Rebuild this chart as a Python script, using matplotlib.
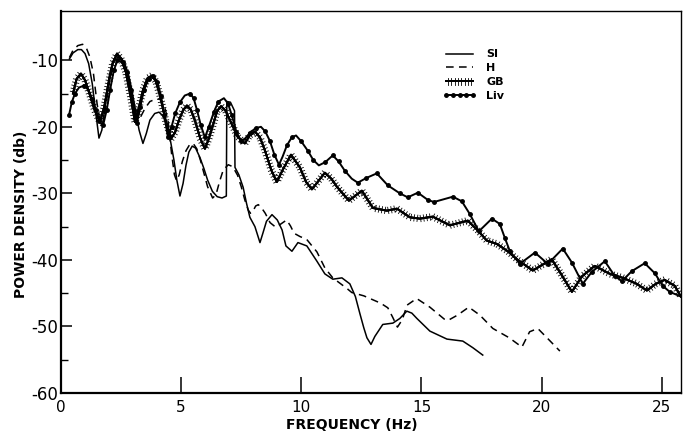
import matplotlib
matplotlib.use("Agg")
import matplotlib.pyplot as plt
import matplotlib.patheffects as pe
from matplotlib.ticker import FixedLocator

plt.rcParams['axes.unicode_minus'] = False
plt.rcParams['font.family'] = ['DejaVu Sans']

# ---- data (frequency in Hz, power density in db) ----
si_freq = [0.35, 0.5, 0.7, 0.85, 1.0, 1.15, 1.3, 1.45, 1.58, 1.7, 1.85, 2.0, 2.15, 2.33, 2.5,
           2.65, 2.8, 2.95, 3.1, 3.25, 3.41, 3.55, 3.7, 3.9, 4.08, 4.25, 4.4, 4.55, 4.7, 4.82,
           4.95, 5.08, 5.2, 5.32, 5.46, 5.6, 5.78, 5.95, 6.1, 6.3, 6.5, 6.7, 6.88, 6.9, 7.05,
           7.22, 7.24, 7.4, 7.58, 7.72, 7.86, 8.07, 8.28, 8.4, 8.55, 8.78, 9.0, 9.2, 9.36, 9.61,
           9.86, 10.23, 10.65, 10.98, 11.31, 11.69, 12.02, 12.25, 12.44, 12.6, 12.73, 12.9, 13.06,
           13.39, 13.81, 14.1, 14.39, 14.6, 14.81, 15.35, 16.06, 16.72, 17.14, 17.55]
si_db = [-9.8, -8.9, -8.4, -8.4, -9.0, -10.5, -13.5, -18.0, -21.7, -20.5, -16.5, -12.5, -10.2, -9.3, -9.6,
         -10.5, -12.0, -14.5, -17.5, -20.5, -22.5, -21.0, -19.0, -18.0, -17.8, -18.4, -19.8, -22.0, -25.0, -28.0,
         -30.4, -28.5, -25.8, -23.8, -22.9, -23.2, -24.6, -26.3, -28.0, -29.7, -30.5, -30.7, -30.4, -16.2, -16.3,
         -17.6, -26.1, -27.2, -29.1, -31.5, -33.6, -35.0, -37.4, -36.0, -34.2, -33.2, -34.0, -35.5, -37.9, -38.7,
         -37.4, -37.9, -40.2, -42.1, -42.9, -42.7, -43.6, -45.5, -48.1, -50.2, -51.7, -52.7, -51.5,
         -49.7, -49.5, -48.8, -47.7, -48.0, -48.8, -50.7, -51.9, -52.2, -53.2, -54.3]

h_freq = [0.35, 0.5, 0.7, 0.9, 1.05, 1.2, 1.35, 1.5, 1.65, 1.75, 1.9, 2.05, 2.2, 2.4, 2.55,
          2.7, 2.85, 3.0, 3.16, 3.3, 3.5, 3.7, 3.9, 4.1, 4.3, 4.45, 4.6, 4.72, 4.81, 4.92,
          5.05, 5.2, 5.35, 5.5, 5.65, 5.8, 5.95, 6.1, 6.31, 6.45, 6.6, 6.75, 6.96, 7.15, 7.35,
          7.5, 7.65, 7.79, 7.89, 8.0, 8.1, 8.21, 8.35, 8.5, 8.7, 8.94, 9.15, 9.39, 9.55, 9.7,
          9.95, 10.22, 10.65, 10.98, 11.31, 11.9, 12.1, 12.6, 13.3, 13.6, 13.8, 14.0, 14.2, 14.4, 14.8,
          15.35, 15.95, 16.1, 16.5, 16.97, 17.43, 17.97, 18.65, 19.18, 19.5, 19.84, 20.33, 20.76]
h_db = [-9.6, -8.5, -7.8, -7.6, -8.1, -9.5, -12.0, -16.5, -19.8, -19.5, -16.0, -12.5, -10.8, -10.1, -10.3,
        -11.2, -13.0, -16.0, -19.4, -18.6, -17.2, -16.2, -15.9, -15.8, -16.8, -19.0, -24.0, -27.2, -28.1, -27.2,
        -25.2, -23.6, -22.7, -22.5, -23.3, -25.0, -27.0, -29.0, -30.7, -30.2, -28.2, -26.5, -25.7, -26.0, -27.3,
        -29.0, -31.0, -32.5, -33.0, -32.6, -31.9, -31.7, -32.2, -33.0, -34.4, -35.1, -34.6, -34.0, -34.9, -36.0,
        -36.5, -36.9, -38.8, -41.2, -42.7, -44.3, -44.9, -45.4, -46.5, -47.2, -48.6, -50.1, -49.0, -46.8, -45.8,
        -47.1, -48.9, -49.1, -48.3, -47.1, -48.3, -50.3, -51.7, -53.1, -50.8, -50.3, -52.1, -53.7]

gb_freq = [0.5, 0.65, 0.83, 1.0, 1.21, 1.4, 1.62, 1.8, 1.96, 2.15, 2.33, 2.5, 2.7, 2.9, 3.08,
           3.25, 3.41, 3.6, 3.79, 3.95, 4.12, 4.35, 4.58, 4.75, 4.91, 5.08, 5.24, 5.4, 5.57, 5.8,
           5.99, 6.15, 6.32, 6.5, 6.66, 6.85, 7.03, 7.35, 7.65, 7.85, 8.07, 8.28, 8.49, 8.75, 8.98,
           9.25, 9.57, 9.94, 10.2, 10.44, 10.7, 10.98, 11.25, 11.48, 11.98, 12.52, 12.98, 13.56, 13.98, 14.52,
           14.93, 15.47, 16.18, 16.93, 17.35, 17.72, 18.14, 18.59, 18.97, 19.63, 20.42, 20.84, 21.26, 21.67, 22.21,
           22.84, 23.38, 23.96, 24.38, 24.75, 25.12, 25.54, 25.79]
gb_db = [-15.0, -12.8, -12.0, -13.0, -15.3, -17.5, -19.3, -17.0, -13.8, -10.5, -9.0, -9.8, -11.8, -15.5, -19.3,
         -17.0, -14.5, -12.7, -12.3, -13.2, -15.3, -19.0, -21.8, -20.8, -19.0, -17.5, -16.8, -17.4, -19.0, -21.8,
         -23.3, -21.8, -19.8, -17.6, -16.9, -17.6, -19.0, -21.5, -22.5, -21.3, -20.7, -21.6, -23.6, -26.5, -28.3,
         -26.3, -24.2, -26.1, -28.3, -29.4, -28.2, -26.9, -27.8, -29.0, -31.1, -29.6, -32.2, -32.6, -32.3, -33.6,
         -33.8, -33.5, -34.8, -34.1, -35.6, -37.1, -37.6, -38.7, -39.9, -41.6, -39.9, -42.3, -44.8, -42.5, -40.9,
         -42.1, -42.7, -43.6, -44.6, -43.6, -43.0, -43.9, -45.5]

liv_freq = [0.33, 0.45, 0.58, 0.75, 0.96, 1.15, 1.3, 1.45, 1.6, 1.75, 1.9, 2.04, 2.2, 2.35, 2.45,
            2.6, 2.75, 2.9, 3.05, 3.16, 3.3, 3.45, 3.65, 3.83, 4.0, 4.16, 4.3, 4.45, 4.6, 4.75,
            4.95, 5.15, 5.37, 5.52, 5.66, 5.82, 5.99, 6.15, 6.36, 6.55, 6.78, 6.95, 7.11, 7.3, 7.49,
            7.65, 7.86, 8.1, 8.32, 8.5, 8.69, 8.88, 9.07, 9.22, 9.4, 9.6, 9.78, 10.0, 10.27, 10.5,
            10.73, 11.0, 11.31, 11.55, 11.81, 12.1, 12.35, 12.7, 13.14, 13.6, 14.1, 14.43, 14.85, 15.27, 15.52,
            16.31, 16.68, 17.01, 17.39, 17.93, 18.26, 18.47, 18.68, 19.09, 19.72, 20.26, 20.88, 21.26, 21.71, 22.09,
            22.63, 23.04, 23.34, 23.75, 24.29, 24.71, 25.04, 25.33, 25.79]
liv_db = [-18.3, -16.3, -15.0, -14.1, -13.8, -14.5, -15.8, -17.5, -19.2, -19.8, -17.5, -14.5, -11.5, -10.0, -9.7,
          -10.3, -11.8, -14.5, -17.5, -19.5, -17.0, -14.5, -12.8, -12.3, -13.2, -15.3, -18.3, -21.6, -20.0, -18.0,
          -16.3, -15.3, -15.0, -15.7, -17.5, -19.8, -21.6, -20.0, -17.8, -16.2, -15.7, -16.5, -18.3, -20.8, -22.1,
          -21.8, -20.9, -20.2, -20.0, -20.7, -22.1, -24.2, -25.7, -24.5, -22.8, -21.6, -21.3, -22.2, -23.6, -25.0,
          -25.8, -25.3, -24.3, -25.2, -26.6, -27.8, -28.4, -27.7, -27.0, -28.8, -30.0, -30.6, -29.9, -31.0, -31.3,
          -30.5, -31.2, -33.1, -35.7, -33.8, -34.6, -36.7, -38.7, -40.6, -38.9, -40.6, -38.3, -40.4, -43.6, -41.8,
          -40.2, -42.4, -43.2, -41.7, -40.5, -42.0, -43.9, -44.8, -45.5]

x_ticks = [0, 5, 10, 15, 20, 25]
x_ticklabels = ['0', '5', '10', '15', '20', '25']
y_ticks = [-60, -50, -40, -30, -20, -10]
y_ticklabels = ['-60', '-50', '-40', '-30', '-20', '-10']
y_minor = [-55, -45, -35, -25, -15]

W, H = 683, 434
fig = plt.figure(figsize=(W / 100, H / 100), dpi=100)
ax = fig.add_axes([61 / W, 41 / H, 620 / W, 382 / H])

ax.plot(si_freq, si_db, color='k', lw=1.1, label='SI')
ax.plot(h_freq, h_db, color='k', lw=1.1, ls=(0, (5, 3.5)), label='H')
ticked = [pe.withTickedStroke(angle=90, spacing=2.3, length=1.0, linewidth=0.6),
          pe.withTickedStroke(angle=-90, spacing=2.3, length=1.0, linewidth=0.6),
          pe.Normal()]
ax.plot(gb_freq, gb_db, color='k', lw=1.4, label='GB', path_effects=ticked)
ax.plot(liv_freq, liv_db, color='k', lw=1.4, marker='o', ms=2.5, markevery=0.017, label='Liv')

ax.set_xlim(0, 25.8)
ax.set_ylim(-60, -2.6)
ax.set_xticks(x_ticks)
ax.set_xticklabels(x_ticklabels, fontsize=11)
ax.set_yticks(y_ticks)
ax.set_yticklabels(y_ticklabels, fontsize=12)
ax.yaxis.set_minor_locator(FixedLocator(y_minor))
ax.tick_params(axis='x', direction='in', length=11.5, width=1.1, pad=5)
ax.tick_params(axis='y', which='major', direction='in', length=8, width=1.1, pad=2)
ax.tick_params(axis='y', which='minor', direction='in', length=5, width=1.0)
ax.spines['left'].set_linewidth(1.6)
ax.spines['bottom'].set_linewidth(1.6)
ax.spines['top'].set_linewidth(1.0)
ax.spines['right'].set_linewidth(1.0)

leg = ax.legend(loc='upper left', bbox_to_anchor=(0.609, 0.911), frameon=False,
                prop={'size': 8, 'weight': 'bold'}, handlelength=3.0, handletextpad=0.9,
                labelspacing=0.35, numpoints=5, borderaxespad=0.0)

fig.text(352 / W, 1 - 425 / H, 'FREQUENCY (Hz)', ha='center', va='center',
         fontsize=10, fontweight='bold')
fig.text(21 / W, 1 - 214 / H, 'POWER DENSITY (db)', ha='center', va='center',
         rotation=90, fontsize=10, fontweight='bold')

fig.savefig('out.png', dpi=100)
